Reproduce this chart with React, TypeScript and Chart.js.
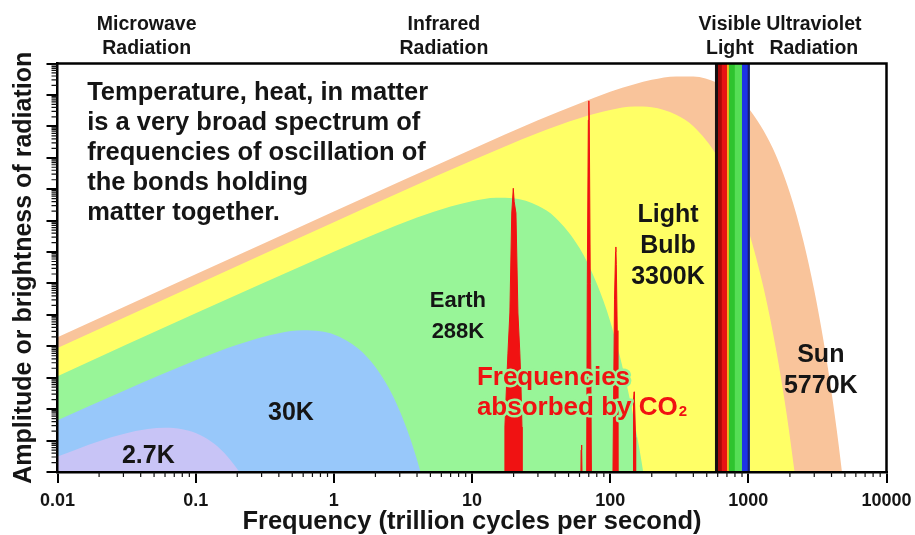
import React, { useEffect, useRef } from "react";
import { Chart, registerables } from "chart.js";

Chart.register(...registerables);

const FONT = '"Liberation Sans", Arial, Helvetica, sans-serif';

// ---- axes ----
const xMin = 0.01;
const xMax = 10000;
const yMin = 1;
const yMax = 1e13;
const xTickValues = [0.01, 0.1, 1, 10, 100, 1000, 10000];
const xTickLabels = ["0.01", "0.1", "1", "10", "100", "1000", "10000"];
const yTickValues = [1, 1e1, 1e2, 1e3, 1e4, 1e5, 1e6, 1e7, 1e8, 1e9, 1e10, 1e11, 1e12, 1e13];
const minorMultipliers = [2, 3, 4, 5, 6, 7, 8, 9];

// ---- spectra (frequency in THz, brightness in arbitrary units) ----
const sunFreq = [0.01, 0.1, 1, 10, 30, 60, 100, 150, 200, 300, 400, 600, 800, 1000, 1500, 2000, 2500, 3000, 3500, 4000, 4500, 5000];
const sunValue = [1.95e4, 1.95e6, 1.95e8, 1.86e10, 1.55e11, 5.37e11, 1.26e12, 2.19e12, 3.02e12, 3.89e12, 3.85e12, 2.4e12, 1.07e12, 3.89e11, 2.04e10, 7.59e8, 2.29e7, 6.1e5, 1.51e4, 347, 7.7, 0.16];

const bulbFreq = [0.01, 0.1, 1, 10, 30, 60, 100, 150, 200, 300, 400, 600, 800, 1000, 1300, 1600, 1900, 2200];
const bulbValue = [8.91e3, 8.91e5, 8.91e7, 8.13e9, 6.17e10, 1.82e11, 3.31e11, 4.27e11, 4.07e11, 2.34e11, 1.0e11, 1.07e10, 8.13e8, 5.01e7, 6.24e5, 6.61e3, 63, 0.55];

const earthFreq = [0.01, 0.1, 0.3, 1, 2, 4, 7, 10, 15, 20, 30, 40, 60, 80, 100, 130, 160, 190];
const earthValue = [1.12e3, 1.12e5, 9.77e5, 1.02e7, 3.76e7, 1.26e8, 2.82e8, 4.17e8, 5.37e8, 5.13e8, 2.95e8, 1.26e8, 1.35e7, 1.0e6, 6.31e4, 785, 8.3, 0.079];

const k30Freq = [0.01, 0.03, 0.1, 0.2, 0.4, 0.6, 0.8, 1, 1.5, 2, 2.5, 3, 3.5, 4, 4.4];
const k30Value = [44, 378, 3.57e3, 1.12e4, 2.6e4, 3.22e4, 3.01e4, 2.38e4, 8.59e3, 2.21e3, 468, 87, 15, 2.44, 0.55];

const k27Freq = [0.01, 0.02, 0.03, 0.045, 0.06, 0.08, 0.1, 0.13, 0.16, 0.2, 0.22];
const k27Value = [3.12, 9.59, 16.3, 23.4, 25.6, 22.9, 17.3, 9.18, 4.18, 1.25, 0.65];

// ---- CO2 absorption lines ----
const co2AFreq = [17.3, 17.3, 17.8, 18.2, 18.8, 19.4, 19.9, 20.2, 20.8, 21.5, 22.2, 22.6, 23.0, 23.0];
const co2AValue = [0.5, 26.9, 631, 6.03e3, 1.15e5, 1.74e8, 1.07e9, 3.98e8, 1.74e8, 1.15e5, 6.03e3, 631, 26.9, 0.5];
const co2BFreq = [67.5, 68.3, 69.5, 70.1, 70.6, 71.8, 73.3];
const co2BValue = [0.5, 1e6, 1.58e11, 6.46e11, 1.58e11, 1e6, 0.5];
const co2CFreq = [104.6, 107.5, 109.4, 110, 110.8, 112.5, 113.7];
const co2CValue = [0.5, 3.16e5, 1e7, 1.45e7, 3.98e6, 3.16e4, 0.5];
const co2DFreq = [146.5, 146.5, 148.5, 149.2, 150, 152.8, 152.8];
const co2DValue = [0.5, 12.6, 200, 355, 200, 12.6, 0.5];
const co2EFreq = [61.3, 61.6, 62, 62.4, 62.7];
const co2EValue = [0.5, 5, 7.24, 5, 0.5];

// ---- visible light band (stripe start frequencies in THz, band end) ----
const bandStarts = [572, 603, 640, 700, 722, 795, 897, 985];
const bandEnd = 1025;
const bandColors = ["#151010", "#A80A0A", "#E81414", "#F0B41E", "#2EC42E", "#55DE55", "#1C32E6", "#1A1A70"];

// ---- colours ----
const C_SUN = "#F9C49B";
const C_BULB = "#FFFF66";
const C_EARTH = "#98F598";
const C_30K = "#98C8FA";
const C_27K = "#C8C4F6";
const C_RED = "#F01212";
const C_TEXT = "#151515";

// ---- annotations (anchored in data coordinates) ----
const topLabels = [
  { lines: ["Microwave", "Radiation"], f: 0.0442 },
  { lines: ["Infrared", "Radiation"], f: 6.26 },
  { lines: ["Visible", "Light"], f: 735 },
  { lines: ["Ultraviolet", "Radiation"], f: 2978 },
];
const paragraphLines = [
  "Temperature, heat, in matter",
  "is a very broad spectrum of",
  "frequencies of oscillation of",
  "the bonds holding",
  "matter together.",
];
const paragraphAnchor = { f: 0.0164, v: 1.12e12 };
const regionLabels = [
  { lines: ["Earth", "288K"], f: 7.91, v: 2.7e5, size: 22 },
  { lines: ["Light", "Bulb", "3300K"], f: 262, v: 1.49e8, size: 25 },
  { lines: ["Sun", "5770K"], f: 3346, v: 5.25e3, size: 25 },
  { lines: ["30K"], f: 0.489, v: 75.2, size: 25 },
  { lines: ["2.7K"], f: 0.0454, v: 3.27, size: 25 },
];
const co2Label = { line1: "Frequencies", line2: "absorbed by ", chem: "CO", sub: "2", f: 10.85, v: 584 };

const pts = (xs: number[], ys: number[]) => xs.map((x, i) => ({ x, y: ys[i] }));

function area(label: string, xs: number[], ys: number[], color: string, smooth: boolean) {
  return {
    label,
    data: pts(xs, ys),
    backgroundColor: color,
    borderColor: "rgba(0,0,0,0)",
    borderWidth: 0,
    pointRadius: 0,
    fill: "start",
    cubicInterpolationMode: smooth ? "monotone" : "default",
    tension: 0,
  };
}
function spike(label: string, xs: number[], ys: number[]) {
  return {
    label,
    data: pts(xs, ys),
    backgroundColor: C_RED,
    borderColor: C_RED,
    borderWidth: 1,
    pointRadius: 0,
    fill: "start",
    tension: 0,
  };
}

const decorPlugin = {
  id: "decor",
  afterDraw(chart: any) {
    const { ctx, chartArea: a, scales } = chart;
    const xs = scales.x;
    const ys = scales.y;
    const X = (f: number) => xs.getPixelForValue(f);
    const Y = (v: number) => ys.getPixelForValue(v);
    ctx.save();

    // minor ticks
    ctx.strokeStyle = "#111";
    ctx.lineWidth = 1.2;
    ctx.beginPath();
    for (let d = -2; d < 4; d++) {
      for (const k of minorMultipliers) {
        const px = X(k * Math.pow(10, d));
        ctx.moveTo(px, a.bottom);
        ctx.lineTo(px, a.bottom + 5);
      }
    }
    for (let d = 0; d < 13; d++) {
      for (const k of minorMultipliers) {
        const py = Y(k * Math.pow(10, d));
        ctx.moveTo(a.left - 6, py);
        ctx.lineTo(a.left, py);
      }
    }
    ctx.stroke();

    // frame top & right
    ctx.strokeStyle = "#000";
    ctx.lineWidth = 2.5;
    ctx.beginPath();
    ctx.moveTo(a.left, a.top);
    ctx.lineTo(a.right, a.top);
    ctx.lineTo(a.right, a.bottom);
    ctx.stroke();

    // top region labels
    ctx.fillStyle = C_TEXT;
    ctx.textAlign = "center";
    ctx.textBaseline = "middle";
    ctx.font = `bold 19.5px ${FONT}`;
    for (const t of topLabels) {
      t.lines.forEach((s, i) => ctx.fillText(s, X(t.f), a.top - 38.5 + i * 23.5));
    }

    // paragraph
    ctx.textAlign = "left";
    ctx.font = `bold 25.5px ${FONT}`;
    paragraphLines.forEach((s, i) =>
      ctx.fillText(s, X(paragraphAnchor.f), Y(paragraphAnchor.v) + i * 30)
    );

    // curve labels
    ctx.textAlign = "center";
    for (const r of regionLabels) {
      ctx.font = `bold ${r.size}px ${FONT}`;
      r.lines.forEach((s, i) => ctx.fillText(s, X(r.f), Y(r.v) + i * 31));
    }

    // CO2 label with halo
    const x0 = X(co2Label.f);
    const b1 = Y(co2Label.v);
    const b2 = b1 + 30;
    ctx.textAlign = "left";
    ctx.textBaseline = "alphabetic";
    ctx.lineJoin = "round";
    ctx.lineWidth = 5;
    ctx.font = `bold 26px ${FONT}`;
    const w2 = ctx.measureText(co2Label.line2).width;
    const wc = ctx.measureText(co2Label.chem).width;
    ctx.strokeStyle = C_EARTH;
    ctx.strokeText(co2Label.line1, x0, b1);
    ctx.strokeText(co2Label.line2, x0, b2);
    ctx.strokeStyle = C_BULB;
    ctx.strokeText(co2Label.chem, x0 + w2, b2);
    ctx.font = `bold 15px ${FONT}`;
    ctx.strokeText(co2Label.sub, x0 + w2 + wc + 1, b2 + 1);
    ctx.fillStyle = C_RED;
    ctx.font = `bold 26px ${FONT}`;
    ctx.fillText(co2Label.line1, x0, b1);
    ctx.fillText(co2Label.line2, x0, b2);
    ctx.fillText(co2Label.chem, x0 + w2, b2);
    ctx.font = `bold 15px ${FONT}`;
    ctx.fillText(co2Label.sub, x0 + w2 + wc + 1, b2 + 1);

    ctx.restore();
  },
};

export default function App() {
  const ref = useRef<HTMLCanvasElement>(null);

  useEffect(() => {
    // back-to-front layers; each visible stripe runs to the band end so no seams show
    const layers: any[] = [
      area("Sun 5770K", sunFreq, sunValue, C_SUN, true),
      area("Light bulb 3300K", bulbFreq, bulbValue, C_BULB, true),
      ...bandColors.map((c, i) =>
        area("Visible " + i, [bandStarts[i], bandEnd], [yMax, yMax], c, false)
      ),
      area("Earth 288K", earthFreq, earthValue, C_EARTH, true),
      area("30K", k30Freq, k30Value, C_30K, true),
      area("2.7K", k27Freq, k27Value, C_27K, true),
      spike("CO2 a", co2AFreq, co2AValue),
      spike("CO2 b", co2BFreq, co2BValue),
      spike("CO2 c", co2CFreq, co2CValue),
      spike("CO2 d", co2DFreq, co2DValue),
      spike("CO2 e", co2EFreq, co2EValue),
    ];
    layers.forEach((d, i) => (d.order = layers.length - i));

    const chart = new Chart(ref.current as HTMLCanvasElement, {
      type: "line",
      data: { datasets: layers },
      options: {
        responsive: false,
        animation: false,
        events: [],
        layout: { padding: { left: 0, top: 63.5, right: 28.5, bottom: 0 } },
        plugins: {
          legend: { display: false },
          tooltip: { enabled: false },
        },
        scales: {
          x: {
            type: "logarithmic",
            min: xMin,
            max: xMax,
            bounds: "data",
            afterBuildTicks: (s: any) => {
              s.ticks = xTickValues.map((v) => ({ value: v }));
            },
            afterFit: (s: any) => {
              s.height = 63;
              s.paddingLeft = 0;
              s.paddingRight = 0;
            },
            grid: {
              display: true,
              drawOnChartArea: false,
              drawTicks: true,
              tickLength: 11,
              color: "#000",
              lineWidth: 2,
            },
            border: { display: true, color: "#000", width: 2.5, z: 1 },
            ticks: {
              autoSkip: false,
              maxRotation: 0,
              minRotation: 0,
              padding: 7,
              color: C_TEXT,
              font: { family: FONT, size: 18, weight: "bold" },
              callback: (_v: any, i: number) => xTickLabels[i],
            },
            title: {
              display: true,
              text: "Frequency (trillion cycles per second)",
              color: C_TEXT,
              font: { family: FONT, size: 25.5, weight: "bold", lineHeight: 1 },
              padding: 0,
            },
          },
          y: {
            type: "logarithmic",
            min: yMin,
            max: yMax,
            bounds: "data",
            afterBuildTicks: (s: any) => {
              s.ticks = yTickValues.map((v) => ({ value: v }));
            },
            afterFit: (s: any) => {
              s.width = 57.5;
              s.paddingTop = 0;
              s.paddingBottom = 0;
            },
            grid: {
              display: true,
              drawOnChartArea: false,
              drawTicks: true,
              tickLength: 11,
              color: "#000",
              lineWidth: 2,
            },
            border: { display: true, color: "#000", width: 2.5, z: 1 },
            ticks: { display: false },
            title: {
              display: true,
              text: "Amplitude or brightness of radiation",
              color: C_TEXT,
              font: { family: FONT, size: 25, weight: "bold", lineHeight: 1.2 },
              padding: { top: 9.5, bottom: 0 },
            },
          },
        },
      },
      plugins: [decorPlugin],
    } as any);

    return () => chart.destroy();
  }, []);

  return (
    <div style={{ position: "absolute", left: 0, top: 0, width: 915, height: 535, background: "#fff" }}>
      <canvas ref={ref} width={915} height={535} style={{ display: "block", width: 915, height: 535 }} />
    </div>
  );
}
